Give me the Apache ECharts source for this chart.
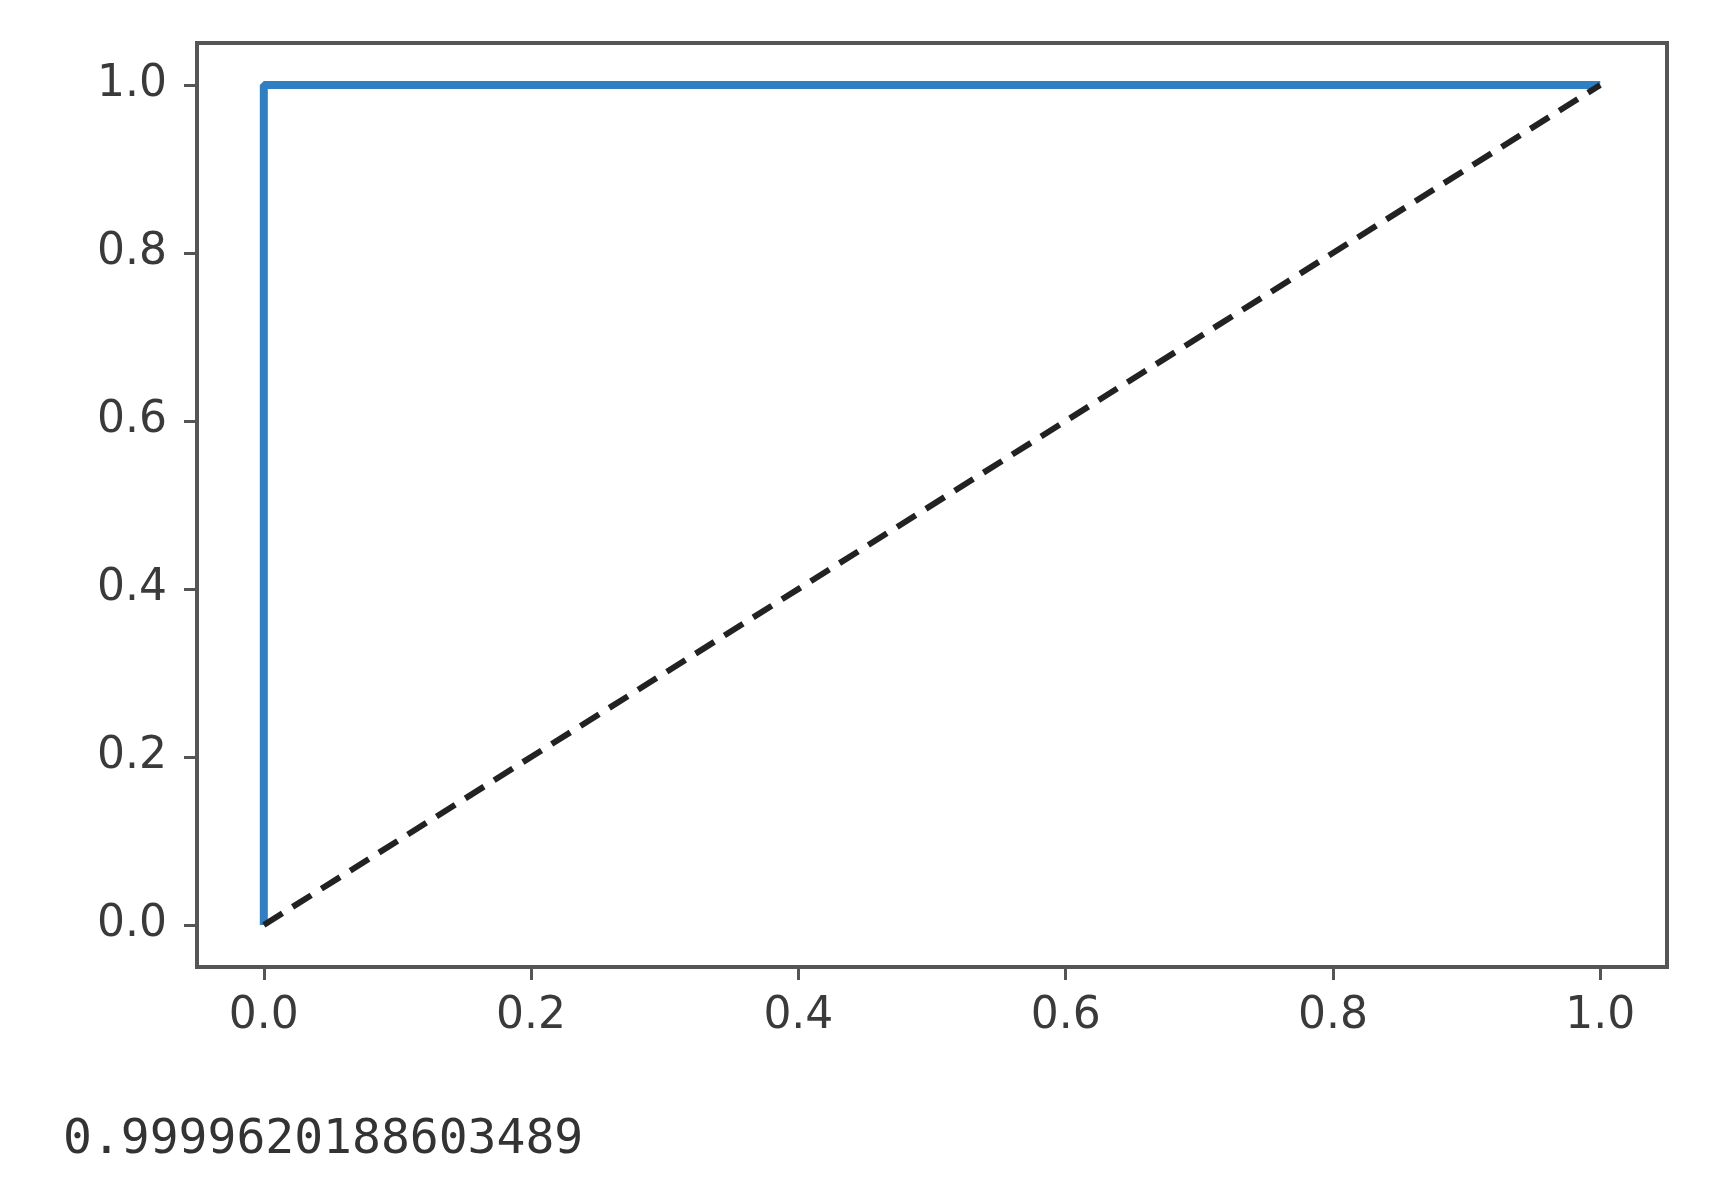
<!DOCTYPE html>
<html>
<head>
<meta charset="utf-8">
<script src="https://cdn.jsdelivr.net/npm/echarts@6/dist/echarts.min.js"></script>
<style>
  html, body { margin: 0; padding: 0; background: #fff; }
  #chart { width: 1724px; height: 1200px; }
</style>
</head>
<body>
<div id="chart"></div>
<script>
// ROC 曲线数据
const fpr = [0, 0, 1];
const tpr = [0, 1, 1];
const diagX = [0, 1];
const diagY = [0, 1];
const tickValues = [0, 0.2, 0.4, 0.6, 0.8, 1.0];
const aucText = '0.9999620188603489';

const myCharts = echarts.init(document.getElementById('chart'));

const axisCommon = {
  type: 'value',
  min: -0.05,
  max: 1.05,
  splitLine: { show: false },
  axisLine: { show: true, onZero: false, lineStyle: { color: '#555', width: 4 } },
  axisTick: {
    show: true,
    inside: false,
    length: 13,
    lineStyle: { color: '#555', width: 3 },
    customValues: tickValues
  },
  axisLabel: {
    customValues: tickValues,
    formatter: v => v.toFixed(1),
    color: '#3a3a3a',
    fontFamily: 'DejaVu Sans',
    fontSize: 44
  }
};

myCharts.setOption({
  animation: false,
  backgroundColor: '#fff',
  title: {
    text: aucText,
    left: 58,
    top: 1112,
    textStyle: {
      fontFamily: 'DejaVu Sans Mono',
      fontSize: 48,
      fontWeight: 'normal',
      color: '#333'
    }
  },
  grid: {
    left: 197,
    top: 43,
    right: 57,
    bottom: 233,
    show: true,
    borderColor: '#555',
    borderWidth: 4
  },
  xAxis: Object.assign({}, axisCommon, {
    axisLabel: Object.assign({}, axisCommon.axisLabel, { margin: 28 })
  }),
  yAxis: Object.assign({}, axisCommon, {
    axisLabel: Object.assign({}, axisCommon.axisLabel, { margin: 30 })
  }),
  series: [
    {
      name: 'roc',
      type: 'line',
      data: fpr.map((x, i) => [x, tpr[i]]),
      symbol: 'none',
      lineStyle: { color: '#2f7fc4', width: 8 },
      z: 3
    },
    {
      name: 'diag',
      type: 'line',
      data: diagX.map((x, i) => [x, diagY[i]]),
      symbol: 'none',
      lineStyle: { color: '#222', width: 6, type: [22, 12] },
      z: 4
    }
  ]
});
</script>
</body>
</html>
